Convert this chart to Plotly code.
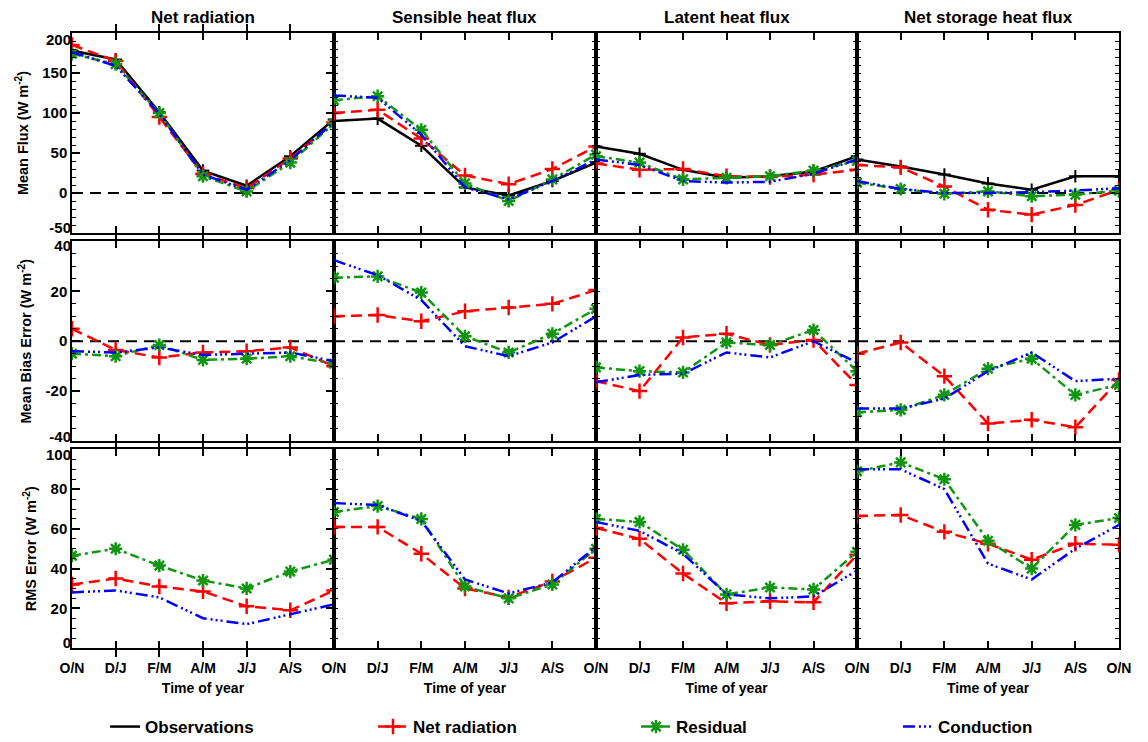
import plotly.graph_objects as go

# ---- data -----------------------------------------------------------------
months = ["O/N", "D/J", "F/M", "A/M", "J/J", "A/S", "O/N"]
flux_names = ["Net radiation", "Sensible heat flux", "Latent heat flux", "Net storage heat flux"]
row_titles = ["Mean Flux (W m<sup>-2</sup>)", "Mean Bias Error (W m<sup>-2</sup>)", "RMS Error (W m<sup>-2</sup>)"]
series_names = ["Observations", "Net radiation", "Residual", "Conduction"]

# Mean flux (one list per flux column)
mean_obs = [
    [178, 167, 101, 28, 9, 46, 92],
    [90, 93, 59, 7, -3, 15, 38],
    [58, 49, 29, 19, 21, 27, 46],
    [42, 33, 23, 12, 4, 21, 21],
]
mean_netrad = [
    [185, 165, 95, 24, 6, 43, 88],
    [100, 104, 68, 22, 11, 30, 58],
    [37, 29, 30, 21, 20, 23, 29],
    [35, 32, 8, -21, -27, -15, 4],
]
mean_resid = [
    [174, 161, 100, 21, 2, 38, 87],
    [116, 121, 79, 12, -10, 17, 48],
    [46, 38, 17, 19, 21, 28, 40],
    [13, 5, -1, 2, -4, -2, 3],
]
mean_cond = [
    [176, 159, 99, 23, 4, 41, 89],
    [122, 119, 73, 7, -8, 15, 42],
    [42, 35, 15, 13, 14, 24, 42],
    [15, 5, 0, 0, 1, 3, 6],
]

# Mean bias error
mbe_netrad = [
    [5, -3.5, -6.5, -4.5, -4, -2.5, -10],
    [10, 10.5, 8, 12, 13.5, 15, 20.5],
    [-16, -20, 1.5, 3, -1.5, 0.5, -17.5],
    [-5, -0.5, -14, -33, -31.5, -34.5, -15.5],
]
mbe_resid = [
    [-5, -6, -1.5, -7.5, -7, -6, -9],
    [25.5, 26, 19.5, 2, -4.5, 3, 13],
    [-10.5, -12, -12.5, -0.5, -1.5, 4.5, -12],
    [-28.5, -27.5, -21.5, -11, -7, -21.5, -17.5],
]
mbe_cond = [
    [-4, -4.5, -2.5, -5.5, -5, -4.5, -8],
    [32.5, 26.5, 16.5, -2, -6, -0.5, 10],
    [-16.5, -13.5, -13, -4.5, -6.5, 0, -8.5],
    [-27, -27, -23, -12, -4.5, -16, -15],
]

# RMS error
rms_netrad = [
    [32, 35, 31, 28.5, 21, 19, 29],
    [61, 61, 47.5, 30, 25.5, 33.5, 45.5],
    [60.5, 55, 37.5, 22.5, 23.5, 23, 47],
    [66.5, 67, 58.5, 52.5, 44.5, 52.5, 52],
]
rms_resid = [
    [46.5, 50, 41.5, 34, 30, 38.5, 44.5],
    [68.5, 71.5, 65, 31, 25, 32, 50],
    [65, 63.5, 49.5, 27, 30.5, 29.5, 48.5],
    [89, 93.5, 85, 54, 40, 62, 65.5],
]
rms_cond = [
    [28, 29, 25.5, 15, 12, 17, 22],
    [73, 72, 64, 34.5, 27.5, 33, 51],
    [63.5, 59, 47.5, 27, 25, 26, 39],
    [90, 90, 80, 42.5, 34.5, 50, 62],
]

# ---- styling --------------------------------------------------------------
FONT = "Liberation Sans, Arial, Helvetica, sans-serif"
BLACK, RED, GREEN, BLUE = "black", "rgb(255,0,0)", "rgb(17,150,17)", "rgb(0,0,255)"
LW = 2.5
DASH_RED = "11px,6px"
DASH_GREEN = "9px,4px,3px,4px"
DASH_BLUE = "12px,4px,2px,3px,2px,3px,2px,4px"

x_idx = list(range(len(months)))

# panel grid (paper coordinates)
x_domains = [[0.0, 0.2502], [0.2502, 0.5005], [0.5005, 0.7498], [0.7498, 1.0]]
y_domains = [[0.6748, 1.0], [0.3366, 0.661], [0.0, 0.3228]]
y_ranges = [[-50, 200], [-40, 40], [0, 100]]
y_dticks = [50, 20, 20]
y_minor = [10, 5, 5]
# end labels are nudged inwards (px, downward positive) so they stay inside their panel
end_shift = [(7, -5), (4, -4), (5, -5)]

row_data = [
    (mean_obs, mean_netrad, mean_resid, mean_cond),
    (None, mbe_netrad, mbe_resid, mbe_cond),
    (None, rms_netrad, rms_resid, rms_cond),
]

# one legend per series so each entry sits under its own column
legend_ids = ["legend", "legend2", "legend3", "legend4"]
legend_x = [0.0915, 0.3249, 0.554, 0.7822]

fig = go.Figure()
layout = {}
shapes = []
legend_done = set()


def tick_font_y():
    return dict(family=FONT, size=15, color=BLACK, weight="bold")


for r in range(3):
    for c in range(4):
        k = r * 4 + c + 1
        sfx = "" if k == 1 else str(k)
        xa, ya = f"x{sfx}", f"y{sfx}"
        obs, nr, res, cond = [d[c] if d is not None else None for d in row_data[r]]

        if obs is not None:
            fig.add_trace(go.Scatter(
                x=x_idx, y=obs, xaxis=xa, yaxis=ya, mode="lines",
                line=dict(color=BLACK, width=LW), name=series_names[0],
                legend=legend_ids[0], showlegend="obs" not in legend_done))
            fig.add_trace(go.Scatter(
                x=x_idx, y=obs, xaxis=xa, yaxis=ya, mode="markers",
                marker=dict(symbol="cross-thin", size=9, line=dict(color=BLACK, width=2)),
                legend=legend_ids[0], showlegend=False, hoverinfo="skip"))
            legend_done.add("obs")

        fig.add_trace(go.Scatter(
            x=x_idx, y=nr, xaxis=xa, yaxis=ya, mode="lines+markers",
            line=dict(color=RED, width=LW, dash=DASH_RED),
            marker=dict(symbol="cross-thin", size=11, color=RED, line=dict(color=RED, width=2.5)),
            name=series_names[1], legend=legend_ids[1], showlegend="nr" not in legend_done))
        legend_done.add("nr")

        fig.add_trace(go.Scatter(
            x=x_idx, y=res, xaxis=xa, yaxis=ya, mode="lines+markers",
            line=dict(color=GREEN, width=LW, dash=DASH_GREEN),
            marker=dict(symbol="asterisk-open", size=11, color=GREEN, line=dict(color=GREEN, width=2.5)),
            name=series_names[2], legend=legend_ids[2], showlegend="res" not in legend_done))
        legend_done.add("res")

        fig.add_trace(go.Scatter(
            x=x_idx, y=cond, xaxis=xa, yaxis=ya, mode="lines",
            line=dict(color=BLUE, width=LW, dash=DASH_BLUE),
            name=series_names[3], legend=legend_ids[3], showlegend="cond" not in legend_done))
        legend_done.add("cond")

        # zero reference line on the flux and bias rows
        if r < 2:
            shapes.append(dict(type="line", xref=f"{xa} domain", x0=0, x1=1,
                               yref=ya, y0=0, y1=0, layer="below",
                               line=dict(color=BLACK, width=2, dash="11px,7px")))

        ticktext = months if c == 0 else [""] + months[1:]
        xax = dict(
            domain=x_domains[c], anchor=ya, range=[0, 6],
            tickmode="array", tickvals=x_idx, ticktext=ticktext,
            showticklabels=(r == 2), ticklabelstandoff=6,
            ticks="inside", ticklen=7, tickwidth=1.5, tickcolor=BLACK,
            showline=True, linecolor=BLACK, linewidth=1.5, mirror="allticks",
            showgrid=False, zeroline=False,
            tickfont=dict(family=FONT, size=14, color=BLACK, weight="bold"),
        )
        if r == 2:
            xax["title"] = dict(text="Time of year", standoff=9,
                                font=dict(family=FONT, size=14, color=BLACK, weight="bold"))

        lo, hi = y_ranges[r]
        vals = list(range(lo, hi + 1, y_dticks[r]))
        inner_text = ["" if v in (lo, hi) else str(v) for v in vals]
        yax = dict(
            domain=y_domains[r], anchor=xa, range=y_ranges[r],
            tickmode="array", tickvals=vals,
            ticktext=inner_text if c == 0 else [""] * len(vals),
            showticklabels=(c == 0),
            ticks="inside", ticklen=8, tickwidth=1.5, tickcolor=BLACK,
            minor=dict(ticks="inside", tickmode="linear", tick0=lo, dtick=y_minor[r],
                       ticklen=4, tickwidth=1.2, tickcolor=BLACK, showgrid=False),
            showline=True, linecolor=BLACK, linewidth=1.5, mirror="allticks",
            showgrid=False, zeroline=False,
            tickfont=tick_font_y(),
        )
        if c == 0:
            yax["title"] = dict(text=row_titles[r], standoff=10,
                                font=dict(family=FONT, size=14.5, color=BLACK, weight="bold"))
        layout[f"xaxis{sfx}"] = xax
        layout[f"yaxis{sfx}"] = yax

    # overlay axes carrying the top and bottom labels of the left-hand panel
    lo, hi = y_ranges[r]
    base = "y" if r == 0 else f"y{r * 4 + 1}"
    base_x = "x" if r == 0 else f"x{r * 4 + 1}"
    for j, (v, sh) in enumerate(((hi, end_shift[r][0]), (lo, end_shift[r][1]))):
        n = 13 + 2 * r + j
        layout[f"yaxis{n}"] = dict(
            visible=True, type="linear",
            overlaying=base, anchor=base_x, side="left", range=y_ranges[r],
            tickmode="array", tickvals=[v], ticktext=[str(v)], showticklabels=True,
            ticks="inside", ticklen=8, tickwidth=1.5, tickcolor="rgba(0,0,0,0)",
            showline=False, showgrid=False, zeroline=False,
            ticklabelshift=sh, tickfont=tick_font_y(),
        )
        # empty trace so the overlay axis gets its own subplot
        fig.add_trace(go.Scatter(x=[None], y=[None], xaxis=base_x, yaxis=f"y{n}",
                                 mode="lines", showlegend=False, hoverinfo="skip"))

annotations = []
for c, name in enumerate(flux_names):
    annotations.append(dict(
        text=name, xref="paper", yref="paper",
        x=sum(x_domains[c]) / 2, y=1.026, xanchor="center", yanchor="middle",
        showarrow=False, font=dict(family=FONT, size=17, color=BLACK, weight="bold")))

legend_style = dict(orientation="h", xref="container", yref="container",
                    y=0.0202, xanchor="left", yanchor="middle",
                    itemwidth=30, bgcolor="rgba(0,0,0,0)",
                    font=dict(family=FONT, size=17, color=BLACK, weight="bold"))
for lid, lx in zip(legend_ids, legend_x):
    layout[lid] = dict(x=lx, **legend_style)

fig.update_layout(
    **layout,
    width=1148, height=742,
    margin=dict(l=72, r=29, t=33, b=94),
    paper_bgcolor="white", plot_bgcolor="white",
    shapes=shapes, annotations=annotations,
    showlegend=True,
)

fig.write_html("out.html")
